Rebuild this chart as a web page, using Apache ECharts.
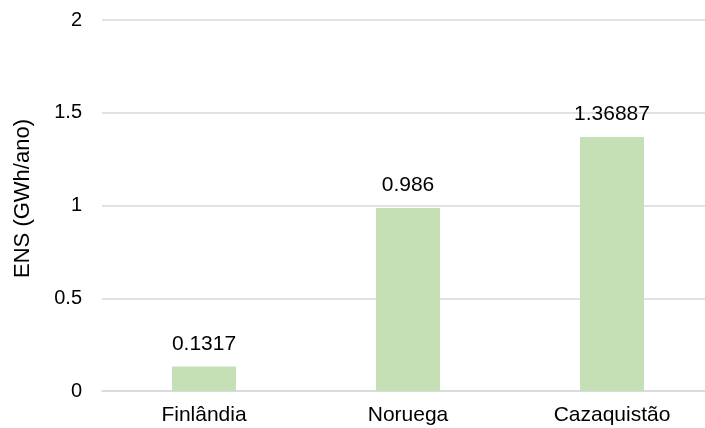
<!DOCTYPE html>
<html>
<head>
<meta charset="utf-8">
<script src="https://cdn.jsdelivr.net/npm/echarts@6/dist/echarts.min.js"></script>
<style>
  html, body { margin: 0; padding: 0; background: #fff; overflow: hidden; }
  #chart { width: 714px; height: 428px; }
</style>
</head>
<body>
<div id="chart"></div>
<script>
// Energia não suprida por país
const countries = ['Finlândia', 'Noruega', 'Cazaquistão'];
const ensValues = [0.1317, 0.986, 1.36887];
const ensLabels = ['0.1317', '0.986', '1.36887'];
const yTicks = [0, 0.5, 1, 1.5, 2];

const FONT = '"Liberation Sans", Arial, sans-serif';

// the plot area runs slightly past the right edge of the window
const chart = echarts.init(document.getElementById('chart'), null, { renderer: 'canvas' });
chart.setOption({
  animation: false,
  backgroundColor: '#ffffff',
  grid: { left: 102, right: 0, top: 20, bottom: 37, containLabel: false },
  xAxis: {
    type: 'category',
    data: countries,
    axisLine: { show: true, lineStyle: { color: '#D9D9D9', width: 1.5 } },
    axisTick: { show: false },
    axisLabel: { color: '#000', fontFamily: FONT, fontSize: 21, margin: 14 }
  },
  yAxis: {
    type: 'value',
    min: yTicks[0],
    max: yTicks[yTicks.length - 1],
    interval: 0.5,
    name: 'ENS (GWh/ano)',
    nameLocation: 'middle',
    nameGap: 68,
    nameRotate: 90,
    nameTextStyle: { color: '#000', fontFamily: FONT, fontSize: 22, padding: [0, 0, 0, 14] },
    axisLine: { show: false },
    axisTick: { show: false },
    splitLine: { lineStyle: { color: '#D9D9D9', width: 1.5 } },
    axisLabel: {
      color: '#000', fontFamily: FONT, fontSize: 20, margin: 20,
      formatter: v => String(v)
    }
  },
  series: [{
    type: 'bar',
    data: ensValues,
    barWidth: 64,
    itemStyle: { color: '#C5E0B4' },
    label: {
      show: true,
      position: 'top',
      distance: 12,
      color: '#000',
      fontFamily: FONT,
      fontSize: 21,
      formatter: p => ensLabels[p.dataIndex]
    }
  }]
});
</script>
</body>
</html>
